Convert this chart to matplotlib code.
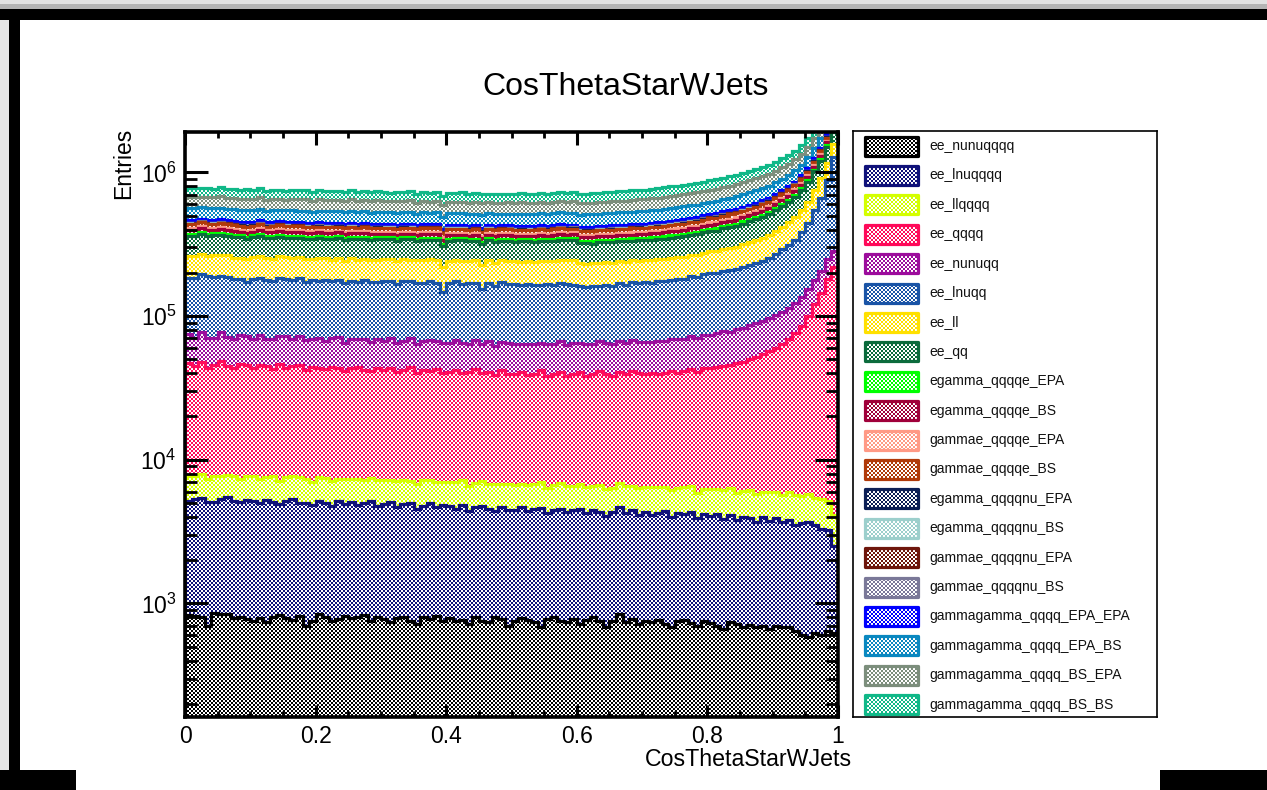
import numpy as np
import matplotlib
matplotlib.use("Agg")
import matplotlib.pyplot as plt
from matplotlib.patches import Rectangle
from matplotlib.colors import to_rgb
from matplotlib.ticker import LogLocator, FixedLocator, NullFormatter, FuncFormatter

plt.rcParams['font.family'] = ['Liberation Sans', 'DejaVu Sans']
plt.rcParams['mathtext.fontset'] = 'custom'
plt.rcParams['mathtext.rm'] = 'Liberation Sans'
plt.rcParams['mathtext.it'] = 'Liberation Sans:italic'

# ---------------- data ----------------
bin_edges = np.linspace(0.0, 1.0, 101)

series_names = ["ee_nunuqqqq", "ee_lnuqqqq", "ee_llqqqq", "ee_qqqq", "ee_nunuqq",
                "ee_lnuqq", "ee_ll", "ee_qq", "egamma_qqqqe_EPA", "egamma_qqqqe_BS",
                "gammae_qqqqe_EPA", "gammae_qqqqe_BS", "egamma_qqqqnu_EPA", "egamma_qqqqnu_BS",
                "gammae_qqqqnu_EPA", "gammae_qqqqnu_BS", "gammagamma_qqqq_EPA_EPA",
                "gammagamma_qqqq_EPA_BS", "gammagamma_qqqq_BS_EPA", "gammagamma_qqqq_BS_BS"]

series_colors = ["#000000", "#10127a", "#d4ff00", "#ff0a5a", "#9c0c9c",
                 "#1a54a6", "#ffe000", "#0b6b3c", "#00ff00", "#a0003a",
                 "#ff9a86", "#b03a0a", "#0c1f55", "#9ccfcc", "#6e160c",
                 "#7a7898", "#0000ff", "#0a88c0", "#7c8e7c", "#10b888"]

# counts per bin (100 bins, 0 -> 1)
ee_nunuqqqq = [830, 820, 800, 700, 860, 850, 840, 790, 800, 780,
               760, 790, 740, 800, 830, 790, 770, 820, 700, 750,
               840, 800, 760, 780, 820, 790, 810, 830, 760, 800,
               780, 740, 790, 810, 760, 720, 800, 780, 820, 760,
               790, 750, 770, 720, 800, 760, 740, 810, 780, 700,
               760, 790, 770, 740, 690, 780, 800, 760, 740, 780,
               720, 770, 800, 750, 690, 760, 850, 740, 780, 720,
               760, 740, 770, 720, 680, 750, 770, 730, 700, 760,
               730, 700, 660, 740, 720, 690, 710, 680, 700, 660,
               700, 680, 690, 640, 600, 580, 620, 600, 640, 620]

ee_lnuqqqq = [4300, 4500, 4600, 4400, 4200, 4500, 4700, 4400, 4300, 4500,
              4400, 4200, 4500, 4300, 4100, 4400, 4600, 4200, 4300, 4100,
              4300, 4200, 4000, 4400, 4100, 4300, 4000, 4200, 4400, 4000,
              4100, 4300, 3900, 4100, 4200, 3800, 4000, 4200, 3900, 4100,
              4000, 3800, 4100, 3700, 3900, 4000, 3800, 3600, 3900, 3800,
              3700, 3900, 3600, 3800, 3900, 3500, 3700, 3800, 3600, 3700,
              3800, 3500, 3700, 3600, 3400, 3600, 3800, 3500, 3700, 3400,
              3600, 3400, 3500, 3700, 3300, 3500, 3400, 3600, 3200, 3400,
              3300, 3500, 3200, 3400, 3100, 3300, 3200, 3000, 3300, 3100,
              3200, 3000, 3100, 2900, 3000, 3100, 2900, 2700, 2600, 1900]

ee_llqqqq = [2600, 2400, 2500, 2300, 2600, 2400, 2300, 2500, 2200, 2400,
             2500, 2300, 2400, 2600, 2200, 2400, 2300, 2500, 2400, 2200,
             2400, 2500, 2300, 2200, 2400, 2300, 2500, 2200, 2300, 2400,
             2300, 2200, 2400, 2300, 2100, 2300, 2400, 2200, 2300, 2100,
             2200, 2400, 2300, 2100, 2200, 2300, 2200, 2400, 2100, 2300,
             2200, 2100, 2300, 2200, 2400, 2100, 2200, 2300, 2200, 2100,
             2300, 2200, 2100, 2300, 2200, 2000, 2200, 2300, 2100, 2200,
             2100, 2300, 2200, 2000, 2200, 2100, 2300, 2200, 2000, 2100,
             2200, 2100, 2300, 2200, 2000, 2100, 2200, 2100, 2000, 2200,
             2100, 2000, 2200, 2100, 2000, 2100, 1900, 2000, 1900, 1600]

ee_qqqq = [39000, 37000, 40000, 36000, 38000, 41000, 37000, 36000, 39000, 38000,
           36000, 38000, 37000, 35000, 39000, 36000, 37000, 38000, 35000, 37000,
           36000, 35000, 37000, 36000, 34000, 36000, 37000, 35000, 34000, 36000,
           35000, 36000, 34000, 35000, 37000, 33000, 35000, 34000, 36000, 33000,
           34000, 35000, 33000, 34000, 36000, 33000, 34000, 32000, 35000, 33000,
           33000, 34000, 32000, 33000, 35000, 32000, 33000, 34000, 32000, 33000,
           34000, 32000, 33000, 35000, 33000, 32000, 34000, 33000, 35000, 34000,
           33000, 34000, 33000, 34000, 35000, 34000, 35000, 36000, 35000, 37000,
           37000, 38000, 39000, 39000, 41000, 42000, 44000, 46000, 48000, 51000,
           54000, 58000, 63000, 70000, 80000, 95000, 115000, 140000, 175000, 215000]

ee_nunuqq = [28000, 26000, 30000, 27000, 25000, 29000, 27000, 26000, 28000, 27000,
             26000, 28000, 25000, 27000, 26000, 29000, 25000, 27000, 26000, 25000,
             27000, 25000, 26000, 28000, 24000, 26000, 25000, 27000, 24000, 26000,
             25000, 27000, 24000, 25000, 26000, 24000, 25000, 27000, 24000, 25000,
             24000, 26000, 25000, 23000, 25000, 24000, 26000, 23000, 24000, 25000,
             24000, 23000, 25000, 24000, 23000, 25000, 24000, 26000, 24000, 25000,
             24000, 25000, 24000, 25000, 26000, 25000, 26000, 25000, 27000, 26000,
             27000, 26000, 28000, 27000, 28000, 29000, 28000, 30000, 29000, 31000,
             31000, 32000, 33000, 32000, 34000, 35000, 36000, 37000, 38000, 40000,
             41000, 43000, 45000, 47000, 50000, 53000, 57000, 62000, 70000, 65000]

ee_lnuqq_k = [110, 112, 118, 120, 117, 113, 115, 110, 108, 100,
              112, 110, 108, 106, 112, 109, 107, 111, 104, 108,
              106, 110, 104, 108, 105, 107, 103, 109, 106, 104,
              107, 105, 103, 108, 104, 106, 102, 107, 104, 82,
              104, 106, 102, 105, 103, 90, 104, 101, 106, 102,
              103, 100, 104, 101, 99, 103, 100, 102, 105, 100,
              97, 95, 99, 96, 100, 98, 102, 100, 104, 103,
              106, 104, 108, 107, 110, 112, 111, 116, 118, 121,
              126, 124, 129, 133, 131, 138, 141, 145, 150, 156,
              170, 185, 200, 218, 250, 290, 370, 460, 640, 1000]

ee_ll_k = [78, 80, 76, 73, 77, 75, 79, 74, 72, 76,
           74, 78, 75, 73, 76, 74, 77, 72, 75, 73,
           76, 74, 72, 75, 73, 77, 74, 72, 75, 73,
           74, 76, 73, 75, 72, 74, 77, 73, 75, 72,
           74, 73, 76, 72, 74, 73, 75, 72, 74, 76,
           73, 75, 74, 72, 76, 74, 78, 75, 77, 79,
           71, 73, 70, 72, 71, 74, 72, 73, 71, 74,
           72, 75, 73, 74, 76, 75, 77, 79, 78, 81,
           83, 82, 86, 88, 91, 94, 98, 102, 107, 112,
           118, 126, 135, 146, 160, 180, 205, 240, 280, 300]

ee_qq_k = [100, 98, 102, 97, 99, 101, 96, 100, 98, 95,
           97, 99, 95, 98, 96, 94, 97, 95, 98, 93,
           96, 94, 97, 93, 95, 92, 96, 94, 91, 95,
           93, 91, 94, 92, 95, 90, 93, 91, 94, 89,
           92, 90, 93, 91, 89, 92, 90, 93, 89, 91,
           90, 92, 89, 91, 93, 90, 92, 94, 91, 93,
           88, 90, 87, 91, 89, 92, 90, 93, 91, 94,
           92, 95, 94, 97, 96, 99, 101, 100, 104, 106,
           108, 111, 114, 117, 121, 125, 130, 135, 141, 148,
           156, 165, 176, 190, 208, 232, 262, 300, 340, 320]

egamma_qqqqe_EPA_k = [12.0, 11.6, 12.4, 11.8, 12.2, 11.7, 12.1, 11.9, 12.3, 11.5,
                      11.8, 12.0, 11.4, 11.9, 11.6, 12.1, 11.5, 11.8, 11.3, 11.7,
                      11.5, 11.8, 11.2, 11.6, 11.4, 11.9, 11.3, 11.5, 11.1, 11.6,
                      11.3, 11.0, 11.5, 11.2, 11.4, 10.9, 11.3, 11.1, 11.4, 10.8,
                      11.1, 10.9, 11.3, 10.8, 11.0, 10.7, 11.2, 10.9, 11.1, 10.8,
                      11.0, 10.8, 11.2, 10.9, 11.1, 10.8, 11.3, 11.0, 11.2, 11.4,
                      11.3, 11.5, 11.4, 11.6, 11.5, 11.8, 11.7, 11.9, 11.8, 12.0,
                      12.0, 12.3, 12.4, 12.8, 12.9, 13.2, 13.3, 13.6, 13.8, 14.0,
                      14.2, 14.6, 14.9, 15.3, 15.6, 16.0, 16.5, 17.0, 17.5, 18.0,
                      18.6, 19.4, 20.4, 21.6, 23.0, 25.2, 28.2, 32.4, 38.4, 48.0]

egamma_qqqqe_BS_k = [23.0, 23.8, 22.5, 23.4, 22.8, 23.6, 22.9, 23.2, 22.6, 23.5,
                     22.7, 23.1, 22.4, 22.9, 22.2, 22.8, 22.5, 22.0, 22.6, 22.3,
                     22.1, 22.6, 21.8, 22.3, 21.9, 22.4, 21.7, 22.0, 21.6, 22.1,
                     21.7, 21.3, 21.9, 21.5, 21.8, 21.2, 21.6, 21.4, 21.0, 21.5,
                     21.2, 20.9, 21.4, 20.8, 21.1, 20.7, 21.2, 20.9, 21.3, 20.8,
                     21.0, 21.3, 20.9, 21.2, 21.0, 21.4, 21.1, 21.5, 21.8, 21.6,
                     21.6, 21.9, 21.7, 22.1, 22.0, 22.4, 22.3, 22.6, 22.5, 22.9,
                     23.0, 23.4, 23.7, 24.2, 24.5, 25.0, 25.3, 25.9, 26.2, 26.6,
                     27.1, 27.8, 28.5, 29.2, 29.9, 30.8, 31.6, 32.5, 33.5, 34.5,
                     35.7, 37.3, 39.1, 41.4, 44.2, 48.3, 54.0, 62.1, 73.6, 92.0]

gammae_qqqqe_EPA_k = [13.0, 12.6, 13.3, 12.8, 13.1, 12.7, 13.2, 12.9, 12.5, 13.0,
                      12.7, 13.0, 12.5, 12.8, 12.4, 12.9, 12.6, 12.3, 12.7, 12.4,
                      12.5, 12.2, 12.6, 12.3, 12.1, 12.5, 12.2, 12.4, 12.0, 12.3,
                      12.1, 12.4, 11.9, 12.2, 11.8, 12.1, 11.9, 12.2, 11.7, 12.0,
                      11.8, 12.0, 11.6, 11.9, 11.7, 12.0, 11.6, 11.8, 11.5, 11.9,
                      11.7, 11.9, 11.6, 11.9, 11.7, 12.0, 11.8, 12.1, 12.0, 12.2,
                      12.2, 12.4, 12.3, 12.5, 12.4, 12.7, 12.6, 12.8, 12.8, 13.0,
                      13.0, 13.3, 13.4, 13.8, 13.9, 14.3, 14.4, 14.7, 14.9, 15.1,
                      15.3, 15.8, 16.1, 16.5, 16.9, 17.4, 17.9, 18.4, 19.0, 19.5,
                      20.2, 21.1, 22.1, 23.4, 25.0, 27.3, 30.6, 35.1, 41.6, 52.0]

gammae_qqqqe_BS_k = [26.0, 26.8, 25.5, 26.4, 25.8, 26.6, 25.4, 26.2, 25.7, 26.5,
                     25.6, 26.1, 25.3, 25.9, 25.1, 25.7, 25.2, 25.8, 24.9, 25.4,
                     25.0, 25.5, 24.7, 25.2, 24.8, 25.3, 24.5, 25.0, 24.6, 24.9,
                     24.5, 24.1, 24.7, 24.2, 24.6, 23.9, 24.4, 24.0, 23.8, 24.3,
                     23.9, 23.6, 24.1, 23.5, 23.8, 23.4, 23.9, 23.6, 24.0, 23.5,
                     23.7, 24.0, 23.6, 23.9, 23.7, 24.1, 23.8, 24.3, 24.5, 24.4,
                     24.4, 24.8, 24.6, 25.0, 24.9, 25.4, 25.2, 25.6, 25.5, 26.0,
                     26.0, 26.6, 26.9, 27.6, 27.8, 28.6, 28.9, 29.4, 29.8, 30.2,
                     30.7, 31.6, 32.2, 33.0, 33.8, 34.8, 35.8, 36.8, 38.0, 39.0,
                     40.3, 42.1, 44.2, 46.8, 49.9, 54.6, 61.1, 70.2, 83.2, 104.0]

egamma_qqqqnu_EPA_k = [2.0, 2.1, 1.9, 2.0, 2.2, 1.9, 2.0, 2.1, 1.9, 2.0,
                       2.0, 1.9, 2.1, 1.9, 2.0, 1.8, 2.0, 1.9, 2.0, 1.9,
                       1.9, 2.0, 1.8, 1.9, 2.0, 1.8, 1.9, 1.9, 1.8, 2.0,
                       1.9, 1.8, 1.9, 1.8, 1.9, 1.8, 1.9, 1.8, 1.9, 1.8,
                       1.8, 1.9, 1.8, 1.8, 1.9, 1.7, 1.8, 1.9, 1.8, 1.8,
                       1.8, 1.9, 1.8, 1.8, 1.9, 1.8, 1.9, 1.8, 1.9, 1.9,
                       1.9, 1.9, 1.9, 1.9, 1.9, 2.0, 1.9, 2.0, 2.0, 2.0,
                       2.0, 2.1, 2.1, 2.1, 2.2, 2.2, 2.2, 2.3, 2.3, 2.3,
                       2.4, 2.4, 2.5, 2.5, 2.6, 2.7, 2.7, 2.8, 2.9, 3.0,
                       3.1, 3.2, 3.4, 3.6, 3.8, 4.2, 4.7, 5.4, 6.4, 8.0]

egamma_qqqqnu_BS_k = [2.1, 2.0, 2.2, 1.9, 2.1, 2.0, 2.1, 1.9, 2.0, 2.1,
                      1.9, 2.0, 2.0, 2.1, 1.9, 2.0, 1.9, 2.0, 1.8, 2.0,
                      2.0, 1.9, 1.9, 2.0, 1.8, 1.9, 2.0, 1.8, 1.9, 1.9,
                      1.8, 1.9, 1.9, 1.8, 1.8, 1.9, 1.8, 1.9, 1.7, 1.9,
                      1.9, 1.8, 1.8, 1.9, 1.7, 1.8, 1.9, 1.8, 1.8, 1.7,
                      1.9, 1.8, 1.8, 1.9, 1.8, 1.9, 1.8, 1.9, 1.8, 1.9,
                      1.9, 1.9, 2.0, 1.9, 2.0, 1.9, 2.0, 2.0, 2.0, 2.1,
                      2.1, 2.1, 2.2, 2.1, 2.2, 2.3, 2.2, 2.3, 2.4, 2.3,
                      2.4, 2.5, 2.5, 2.6, 2.6, 2.7, 2.8, 2.8, 2.9, 3.0,
                      3.1, 3.3, 3.4, 3.6, 3.9, 4.2, 4.7, 5.4, 6.3, 8.0]

gammae_qqqqnu_EPA_k = [2.0, 1.9, 2.1, 2.0, 1.9, 2.1, 2.0, 2.0, 1.9, 2.1,
                       2.0, 1.9, 2.0, 1.9, 2.1, 1.9, 1.9, 2.0, 1.9, 1.8,
                       2.0, 1.9, 1.9, 1.8, 1.9, 2.0, 1.8, 1.9, 1.9, 1.8,
                       1.9, 1.9, 1.8, 1.9, 1.8, 1.8, 1.9, 1.8, 1.8, 1.9,
                       1.8, 1.8, 1.9, 1.7, 1.8, 1.8, 1.8, 1.7, 1.9, 1.8,
                       1.8, 1.8, 1.9, 1.8, 1.8, 1.8, 1.9, 1.9, 1.8, 1.9,
                       1.9, 1.9, 1.9, 2.0, 1.9, 2.0, 2.0, 1.9, 2.0, 2.0,
                       2.1, 2.0, 2.1, 2.2, 2.1, 2.2, 2.3, 2.2, 2.3, 2.4,
                       2.4, 2.4, 2.5, 2.6, 2.6, 2.7, 2.7, 2.8, 2.9, 2.9,
                       3.1, 3.2, 3.4, 3.5, 3.8, 4.2, 4.6, 5.4, 6.4, 7.9]

gammae_qqqqnu_BS_k = [1.9, 2.0, 2.0, 2.1, 1.9, 2.0, 2.1, 1.9, 2.0, 2.0,
                      1.9, 2.0, 1.9, 2.0, 1.9, 2.0, 1.9, 1.9, 2.0, 1.9,
                      1.9, 1.9, 2.0, 1.8, 1.9, 1.9, 1.9, 1.8, 1.9, 1.9,
                      1.8, 1.9, 1.8, 1.9, 1.8, 1.9, 1.8, 1.8, 1.9, 1.8,
                      1.8, 1.8, 1.8, 1.9, 1.8, 1.8, 1.7, 1.8, 1.8, 1.9,
                      1.8, 1.8, 1.8, 1.8, 1.9, 1.8, 1.8, 1.9, 1.9, 1.8,
                      1.9, 1.9, 1.9, 1.9, 2.0, 1.9, 2.0, 2.0, 2.0, 2.0,
                      2.0, 2.1, 2.1, 2.1, 2.2, 2.2, 2.2, 2.3, 2.3, 2.4,
                      2.4, 2.5, 2.5, 2.5, 2.6, 2.7, 2.8, 2.8, 2.9, 3.0,
                      3.1, 3.2, 3.3, 3.6, 3.8, 4.2, 4.7, 5.4, 6.4, 8.0]

gammagamma_qqqq_EPA_EPA_k = [21.0, 21.8, 20.6, 21.4, 20.9, 21.6, 20.7, 21.2, 20.5, 21.3,
                             20.8, 21.1, 20.4, 20.9, 20.2, 20.8, 20.5, 20.0, 20.6, 20.3,
                             20.1, 20.6, 19.8, 20.3, 19.9, 20.4, 19.7, 20.0, 19.6, 20.1,
                             19.7, 19.4, 19.9, 19.5, 19.8, 19.2, 19.6, 19.4, 19.1, 19.5,
                             19.2, 18.9, 19.4, 18.8, 19.1, 18.7, 19.2, 18.9, 19.3, 18.8,
                             19.0, 19.3, 18.9, 19.2, 19.0, 19.4, 19.1, 19.5, 19.8, 19.6,
                             19.7, 20.0, 19.8, 20.2, 20.1, 20.5, 20.4, 20.7, 20.6, 21.0,
                             21.0, 21.5, 21.7, 22.3, 22.5, 23.1, 23.3, 23.8, 24.1, 24.4,
                             24.8, 25.5, 26.0, 26.7, 27.3, 28.1, 28.9, 29.7, 30.7, 31.5,
                             32.6, 34.0, 35.7, 37.8, 40.3, 44.1, 49.4, 56.7, 67.2, 84.0]

gammagamma_qqqq_EPA_BS_k = [95, 97, 93, 96, 94, 98, 92, 95, 90, 96,
                            94, 96, 92, 95, 93, 91, 94, 92, 95, 90,
                            93, 91, 94, 90, 92, 95, 89, 92, 90, 93,
                            91, 89, 92, 90, 93, 88, 91, 89, 92, 87,
                            90, 88, 91, 87, 89, 92, 88, 90, 86, 89,
                            88, 90, 87, 89, 91, 88, 90, 92, 89, 91,
                            90, 91, 92, 92, 94, 93, 95, 95, 97, 97,
                            98, 99, 100, 102, 103, 104, 106, 107, 109, 110,
                            112, 115, 118, 121, 124, 127, 131, 134, 138, 142,
                            147, 154, 162, 171, 182, 200, 223, 257, 304, 380]

gammagamma_qqqq_BS_EPA_k = [110, 113, 108, 112, 109, 114, 107, 111, 105, 112,
                            108, 111, 106, 110, 107, 104, 109, 106, 110, 103,
                            107, 104, 108, 103, 106, 109, 102, 106, 103, 107,
                            104, 101, 105, 102, 106, 100, 104, 101, 105, 99,
                            102, 100, 104, 99, 101, 104, 100, 102, 98, 101,
                            100, 102, 99, 101, 104, 100, 102, 105, 101, 104,
                            104, 103, 106, 105, 107, 106, 109, 108, 111, 111,
                            113, 114, 116, 118, 120, 121, 123, 125, 127, 128,
                            131, 134, 137, 141, 144, 148, 152, 156, 160, 165,
                            171, 178, 187, 198, 211, 231, 259, 297, 352, 440]

gammagamma_qqqq_BS_BS_k = [104, 107, 101, 106, 102, 108, 100, 105, 99, 106,
                           102, 105, 100, 104, 101, 98, 103, 100, 104, 97,
                           101, 98, 102, 97, 100, 103, 96, 100, 97, 101,
                           98, 95, 99, 96, 100, 94, 98, 95, 99, 93,
                           96, 94, 98, 93, 95, 98, 94, 96, 92, 95,
                           94, 96, 93, 95, 98, 94, 96, 99, 95, 98,
                           98, 97, 100, 99, 101, 100, 103, 102, 105, 105,
                           107, 108, 110, 111, 113, 115, 116, 118, 120, 121,
                           124, 127, 130, 133, 136, 140, 144, 148, 152, 156,
                           161, 168, 177, 187, 200, 218, 244, 281, 333, 416]

y_range = (162.0, 1.908e6)
x_ticks_major = [0.0, 0.2, 0.4, 0.6, 0.8, 1.0]
x_tick_labels = ["0", "0.2", "0.4", "0.6", "0.8", "1"]
y_ticks_major = [1e3, 1e4, 1e5, 1e6]
title_text = "CosThetaStarWJets"
x_title = "CosThetaStarWJets"
y_title = "Entries"

# ---------------- assemble ----------------
counts = [np.asarray(ee_nunuqqqq, float), np.asarray(ee_lnuqqqq, float),
          np.asarray(ee_llqqqq, float), np.asarray(ee_qqqq, float),
          np.asarray(ee_nunuqq, float)]
for arr in [ee_lnuqq_k, ee_ll_k, ee_qq_k, egamma_qqqqe_EPA_k, egamma_qqqqe_BS_k,
            gammae_qqqqe_EPA_k, gammae_qqqqe_BS_k, egamma_qqqqnu_EPA_k, egamma_qqqqnu_BS_k,
            gammae_qqqqnu_EPA_k, gammae_qqqqnu_BS_k, gammagamma_qqqq_EPA_EPA_k,
            gammagamma_qqqq_EPA_BS_k, gammagamma_qqqq_BS_EPA_k, gammagamma_qqqq_BS_BS_k]:
    counts.append(np.asarray(arr, float) * 1e3)
for c in counts:
    assert len(c) == 100, len(c)
stack = np.cumsum(np.vstack(counts), axis=0)

W, H = 1267, 790
fig = plt.figure(figsize=(W / 100, H / 100), dpi=100)
fig.patch.set_facecolor("white")

def px_rect(x0, y0, x1, y1, color, z=0):
    fig.patches.append(Rectangle((x0 / W, 1 - y1 / H), (x1 - x0) / W, (y1 - y0) / H,
                                 transform=fig.transFigure, facecolor=color,
                                 edgecolor="none", zorder=z))

# window frame of the screenshot
px_rect(0, 0, W, 4, "#e2e2e2")
px_rect(0, 4, W, 9, "#b4b4b4")
px_rect(0, 9, W, 20, "#000000")
px_rect(9, 9, 20, H, "#000000")
px_rect(0, 20, 9, H, "#e6e6e6")
px_rect(0, 770, 76, H, "#000000")
px_rect(1160, 770, W, H, "#000000")


def checker(color, h, w, cell=2):
    yy, xx = np.mgrid[0:h, 0:w]
    on = ((yy // cell + xx // cell) % 2) == 0
    img = np.ones((h, w, 3))
    img[on] = to_rgb(color)
    return img


ax_l, ax_r, ax_t, ax_b = 185, 838, 132, 717
ax = fig.add_axes([ax_l / W, 1 - ax_b / H, (ax_r - ax_l) / W, (ax_b - ax_t) / H])
ax.set_yscale("log")
ax.set_xlim(0, 1)
ax.set_ylim(*y_range)
axw, axh = ax_r - ax_l, ax_b - ax_t

n = len(counts)
for k in range(n - 1, -1, -1):
    top = stack[k]
    z = 2 + (n - k) * 0.01
    poly = ax.stairs(top, bin_edges, baseline=1.0, fill=True, color="none", lw=0, zorder=z)
    im = ax.imshow(checker(series_colors[k], axh, axw), extent=[0, 1, 0, 1],
                   transform=ax.transAxes, aspect="auto", interpolation="nearest",
                   zorder=z, origin="upper")
    im.set_clip_path(poly)
    ax.stairs(top, bin_edges, baseline=1.0, fill=False, color=series_colors[k],
              lw=2.3, zorder=z + 0.005)
ax.set_xlim(0, 1)
ax.set_ylim(*y_range)

for s in ax.spines.values():
    s.set_linewidth(2.6)
    s.set_zorder(10)

ax.set_xticks(x_ticks_major)
ax.set_xticklabels(x_tick_labels)
ax.xaxis.set_minor_locator(FixedLocator(np.arange(0.05, 1.0, 0.05)))
ax.yaxis.set_major_locator(FixedLocator(y_ticks_major))
ax.yaxis.set_major_formatter(FuncFormatter(lambda v, p: r"$10^{%d}$" % int(round(np.log10(v)))))
ax.yaxis.set_minor_locator(LogLocator(base=10, subs=np.arange(2, 10), numticks=20))
ax.yaxis.set_minor_formatter(NullFormatter())
ax.tick_params(axis="x", which="major", direction="in", length=9, width=2.2, top=True,
               labelsize=16.5, pad=6)
ax.tick_params(axis="x", which="minor", direction="in", length=4.5, width=2.0, top=True)
ax.tick_params(axis="y", which="major", direction="in", length=16.5, width=2.2, right=True,
               labelsize=16.5, pad=6)
ax.tick_params(axis="y", which="minor", direction="in", length=8.5, width=2.0, right=True)
for t in ax.get_xticklines() + ax.get_yticklines():
    t.set_zorder(11)
ax.set_axisbelow(False)

fig.text(626 / W, 1 - 95 / H, title_text, ha="center", va="baseline", fontsize=23)
fig.text(852 / W, 1 - 766 / H, x_title, ha="right", va="baseline", fontsize=16.7)
fig.text(124 / W, 1 - 128 / H, y_title, ha="center", va="top", rotation=90, fontsize=16.5)

# legend (drawn in its own pixel-unit axes)
lg_l, lg_r, lg_t, lg_b = 853, 1157, 131, 717
lax = fig.add_axes([lg_l / W, 1 - lg_b / H, (lg_r - lg_l) / W, (lg_b - lg_t) / H])
lax.set_xlim(0, lg_r - lg_l)
lax.set_ylim(lg_b - lg_t, 0)
lax.set_xticks([])
lax.set_yticks([])
for s in lax.spines.values():
    s.set_linewidth(1.2)
for i, (name, col) in enumerate(zip(series_names, series_colors)):
    yc = 146 + 29.4 * i - lg_t
    x0, bw, bh = 12, 53, 19
    frame = Rectangle((x0, yc - bh / 2), bw, bh, facecolor="none", edgecolor=col,
                      lw=2.3, joinstyle="round", zorder=4)
    lax.add_patch(frame)
    clipr = Rectangle((x0, yc - bh / 2), bw, bh, facecolor="none", edgecolor="none")
    lax.add_patch(clipr)
    im = lax.imshow(checker(col, bh, bw), extent=[x0, x0 + bw, yc + bh / 2, yc - bh / 2],
                    interpolation="nearest", zorder=3)
    im.set_clip_path(clipr)
    lax.text(76, yc, name, ha="left", va="center", fontsize=10, color="#111111")
lax.set_xlim(0, lg_r - lg_l)
lax.set_ylim(lg_b - lg_t, 0)
lax.set_aspect("auto")

fig.savefig("out.png", dpi=100, facecolor=fig.get_facecolor())
